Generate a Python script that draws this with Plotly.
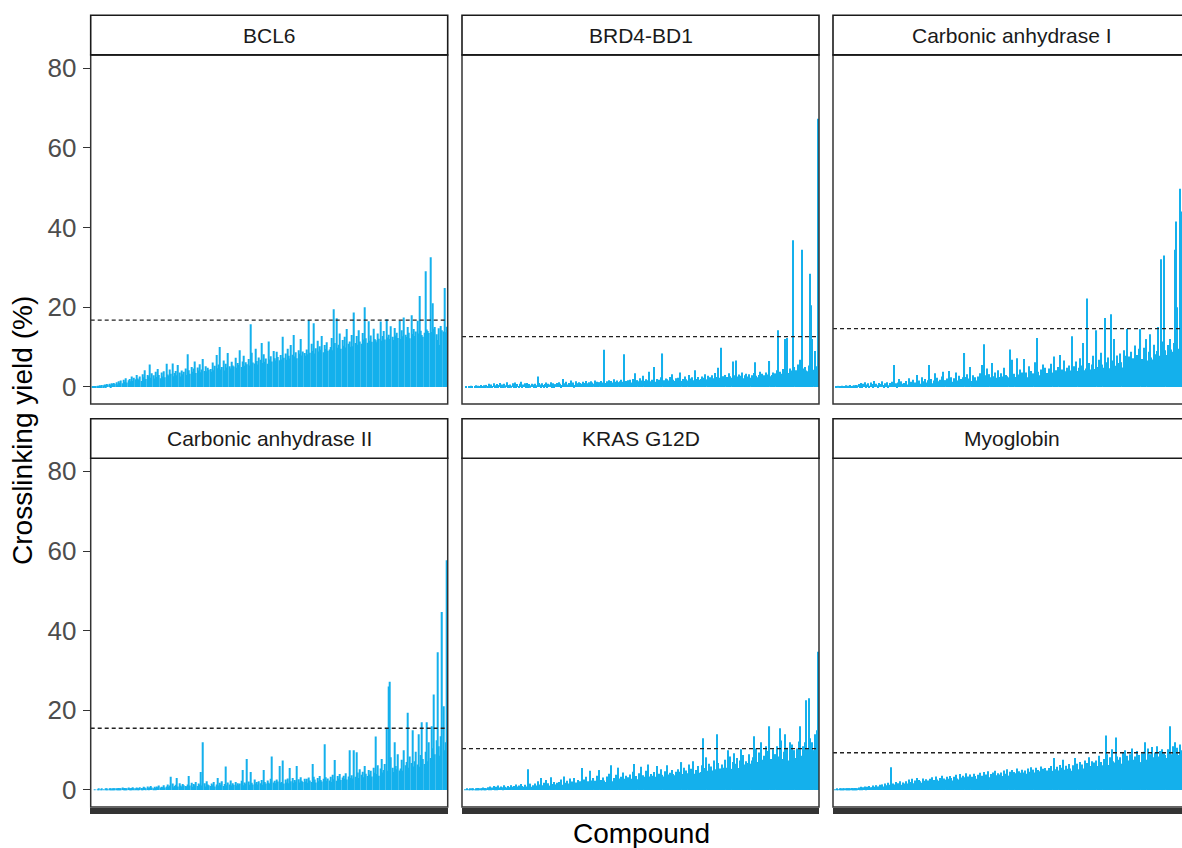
import plotly.graph_objects as go

# ---------------- data ----------------
N_COMPOUNDS = 300
compounds = list(range(1, N_COMPOUNDS + 1))

proteins = ["BCL6", "BRD4-BD1", "Carbonic anhydrase I",
            "Carbonic anhydrase II", "KRAS G12D", "Myoglobin"]
thresholds = [16.75, 12.6, 14.6, 15.5, 10.4, 9.35]

bcl6 = [
    0, 0.1, 0.1, 0.2, 0.2, 0.3, 0.2, 0.4, 0.3, 0.5, 0.4, 0.6, 0.5, 0.7, 0.6, 0.8, 0.5, 0.9, 0.7, 1.0,
    0.8, 1.2, 0.6, 1.4, 1.0, 1.6, 0.9, 1.8, 1.3, 2.2, 1.1, 1.7, 2.0, 1.4, 2.6, 1.5, 2.3, 1.9, 3.0, 2.1,
    1.8, 2.6, 1.5, 3.2, 2.4, 4.2, 2.0, 3.0, 2.7, 5.6, 2.3, 3.4, 2.9, 2.1, 3.8, 2.5, 4.5, 3.0, 2.2, 3.6,
    2.6, 3.9, 2.4, 5.8, 3.1, 2.8, 4.4, 3.3, 5.9, 2.7, 3.5, 4.0, 2.9, 5.5, 3.6, 2.6, 4.1, 3.2, 3.8, 4.6,
    3.0, 8.2, 4.2, 3.3, 5.0, 3.8, 4.6, 6.4, 3.5, 4.9, 4.1, 5.7, 3.7, 4.4, 7.0, 4.0, 5.2, 3.9, 4.8, 4.3,
    4.5, 3.8, 6.1, 4.2, 5.3, 8.0, 4.7, 5.6, 10.0, 4.4, 5.0, 6.6, 4.1, 5.8, 4.9, 8.5, 5.2, 4.6, 6.3, 5.4,
    5.1, 7.3, 4.8, 6.0, 5.5, 9.2, 5.0, 6.4, 7.8, 5.3, 6.2, 5.7, 7.0, 5.4, 15.7, 8.6, 6.1, 5.9, 9.6, 6.5,
    5.6, 7.4, 6.8, 11.0, 6.0, 8.2, 6.3, 7.1, 5.8, 11.4, 6.9, 7.7, 6.4, 9.0, 7.2, 6.6, 8.8, 7.5, 6.7, 8.0,
    6.9, 12.6, 7.3, 8.4, 6.8, 9.6, 7.8, 7.1, 10.5, 8.1, 13.0, 7.6, 8.7, 7.2, 9.2, 8.3, 12.0, 7.9, 8.9, 8.5,
    7.8, 9.4, 8.2, 16.8, 8.6, 10.8, 9.0, 16.0, 8.4, 9.7, 11.6, 8.9, 10.2, 9.3, 12.8, 8.7, 10.5, 9.5, 11.2, 9.1,
    9.4, 10.0, 12.3, 9.2, 19.5, 11.0, 17.2, 9.8, 10.6, 13.4, 9.6, 11.8, 10.3, 12.6, 9.9, 14.5, 10.8, 11.4, 10.1, 13.0,
    10.2, 18.7, 11.0, 12.8, 10.6, 14.2, 11.4, 10.8, 13.5, 11.9, 20.0, 12.2, 11.1, 16.5, 11.6, 12.9, 11.3, 14.6, 12.0, 11.7,
    11.2, 13.4, 12.1, 16.4, 11.6, 12.8, 14.0, 11.9, 17.0, 12.4, 13.1, 12.0, 15.2, 12.6, 11.8, 14.8, 12.9, 13.6, 12.3, 16.6,
    12.0, 14.2, 12.7, 17.4, 13.1, 12.5, 15.0, 13.6, 12.2, 18.0, 13.3, 14.5, 12.8, 13.9, 16.6, 13.4, 22.8, 14.1, 13.0, 12.6,
    13.6, 29.0, 14.4, 14.0, 13.5, 32.5, 13.8, 21.0, 14.6, 15.0, 13.2, 11.8, 14.7, 10.5, 15.3, 14.2, 13.9, 24.8, 13.7, 15.1,
]

brd4_bd1 = [
    0, 0, 0, 0.1, 0, 0.2, 0, 0.3, 0.1, 0, 0.2, 0.4, 0, 0.3, 0.1, 0.5, 0.2, 0, 0.4, 0.3,
    0.5, 0.2, 0.8, 0.3, 0.6, 0.1, 0.9, 0.4, 0.2, 0.7, 0.5, 1.0, 0.3, 0.6, 0.2, 0.8, 0.4, 1.2, 0.3, 0.5,
    0.6, 0.3, 0.9, 0.4, 1.1, 0.5, 0.7, 0.2, 0.8, 1.3, 0.4, 0.6, 0.9, 0.3, 1.0, 0.5, 0.7, 0.4, 0.8, 0.6,
    0.5, 0.8, 0.4, 2.6, 1.0, 0.6, 0.3, 0.9, 0.5, 0.7, 1.1, 0.4, 0.8, 0.6, 1.2, 0.5, 0.9, 0.3, 0.7, 1.0,
    0.6, 1.2, 0.8, 0.5, 2.0, 0.9, 0.7, 1.3, 0.6, 1.0, 0.8, 1.6, 0.7, 1.1, 0.5, 1.4, 0.9, 0.8, 1.2, 1.0,
    0.8, 1.3, 0.7, 1.0, 1.5, 0.9, 1.2, 0.6, 1.4, 1.1, 0.8, 1.6, 1.0, 1.3, 0.9, 1.2, 1.5, 0.8, 1.1, 9.3,
    1.0, 1.4, 0.9, 1.7, 1.2, 1.5, 1.1, 1.9, 1.3, 1.0, 1.6, 1.2, 1.4, 1.8, 1.1, 1.3, 8.2, 1.5, 1.2, 1.7,
    1.3, 1.8, 1.1, 2.0, 1.5, 3.4, 1.2, 1.7, 1.4, 2.2, 1.6, 1.3, 2.8, 1.5, 1.9, 1.2, 1.7, 3.8, 1.4, 1.8,
    1.5, 5.0, 1.3, 2.0, 1.6, 1.8, 1.4, 2.4, 8.4, 1.7, 1.5, 2.1, 1.9, 1.6, 2.5, 1.4, 3.2, 1.8, 1.5, 2.2,
    1.6, 2.3, 1.8, 3.6, 1.5, 2.0, 1.7, 2.6, 1.9, 1.6, 3.0, 2.1, 1.8, 2.4, 1.7, 4.2, 2.0, 1.9, 2.5, 1.8,
    2.0, 2.6, 1.8, 2.3, 3.2, 1.9, 2.8, 2.1, 2.4, 1.7, 2.9, 2.2, 3.5, 2.0, 2.5, 4.8, 2.3, 9.8, 2.1, 2.7,
    2.2, 3.0, 2.5, 2.0, 3.4, 2.7, 2.3, 6.4, 2.9, 2.1, 6.6, 2.6, 3.1, 2.4, 2.8, 3.6, 2.2, 2.9, 3.3, 2.5,
    2.6, 3.2, 2.3, 2.9, 2.7, 3.5, 6.2, 2.8, 2.4, 3.0, 3.8, 2.6, 3.3, 2.9, 2.5, 3.6, 2.8, 3.1, 6.5, 2.7,
    3.0, 3.6, 2.8, 3.4, 4.2, 14.2, 3.1, 3.8, 3.3, 4.5, 3.9, 12.0, 5.2, 12.3, 3.5, 4.6, 4.1, 3.7, 36.8, 5.0,
    4.2, 3.5, 5.6, 4.0, 6.8, 34.4, 3.8, 4.6, 5.0, 4.1, 3.9, 5.4, 28.4, 20.5, 12.0, 4.3, 9.0, 5.2, 4.6, 67.3,
]

carbonic_anhydrase_1 = [
    0, 0, 0.1, 0, 0.2, 0.1, 0, 0.3, 0.2, 0.1, 0.4, 0, 0.3, 0.2, 0.5, 0.1, 0.3, 0.4, 0.2, 0.5,
    0.4, 0.7, 0.3, 1.0, 0.5, 0.8, 1.2, 0.4, 0.6, 0.9, 0.3, 1.1, 0.7, 0.5, 1.5, 0.6, 0.8, 0.4, 1.0, 0.7,
    0.6, 1.4, 0.5, 0.9, 0.7, 1.2, 0.4, 1.0, 0.8, 1.3, 0.6, 5.5, 0.9, 0.5, 1.1, 2.0, 0.7, 1.4, 0.8, 1.0,
    0.8, 1.5, 0.6, 2.2, 1.0, 1.3, 0.7, 1.8, 1.1, 0.9, 3.0, 1.2, 1.6, 0.8, 2.4, 1.0, 1.4, 2.0, 1.1, 1.7,
    5.5, 1.2, 2.0, 0.9, 1.6, 3.4, 1.1, 2.3, 1.4, 1.8, 1.0, 2.6, 3.8, 1.3, 1.7, 2.1, 1.2, 4.0, 1.5, 2.4,
    1.3, 2.2, 1.0, 3.6, 1.6, 2.8, 1.2, 2.0, 1.8, 2.4, 8.5, 2.5, 3.2, 1.7, 2.1, 5.0, 1.5, 2.9, 1.9, 2.4,
    1.6, 2.6, 1.9, 3.4, 2.2, 5.5, 10.7, 1.8, 2.9, 4.6, 2.0, 3.2, 2.4, 6.0, 1.9, 2.7, 3.6, 2.3, 4.2, 2.5,
    2.0, 3.4, 2.6, 4.8, 2.2, 3.0, 2.7, 2.4, 9.4, 3.8, 6.8, 2.9, 3.3, 2.5, 7.2, 3.1, 2.8, 4.4, 3.6, 2.6,
    7.0, 2.8, 3.6, 2.4, 5.2, 3.2, 4.0, 2.7, 3.4, 6.2, 3.0, 12.3, 3.8, 2.9, 4.4, 3.3, 5.6, 3.1, 4.8, 3.5,
    3.2, 4.6, 2.9, 5.8, 3.6, 7.6, 3.3, 4.2, 3.0, 5.0, 8.0, 3.7, 4.4, 3.4, 6.6, 3.9, 4.8, 3.5, 5.4, 4.1,
    12.7, 3.8, 5.2, 3.5, 6.4, 4.0, 4.8, 7.2, 3.6, 5.4, 11.0, 4.2, 4.6, 22.2, 3.9, 6.0, 4.4, 5.6, 7.8, 4.1,
    4.5, 14.2, 5.0, 6.8, 4.3, 8.6, 5.6, 4.8, 17.3, 6.2, 5.1, 7.4, 4.7, 18.2, 5.8, 6.6, 12.0, 5.3, 7.9, 6.0,
    5.5, 8.4, 6.2, 4.9, 9.2, 6.8, 7.8, 14.5, 7.6, 6.3, 8.8, 5.9, 7.2, 10.4, 6.5, 8.0, 6.1, 9.6, 14.5, 7.0,
    6.4, 9.8, 7.0, 12.0, 6.6, 8.8, 13.2, 7.4, 6.9, 10.6, 8.2, 7.6, 9.0, 15.0, 7.8, 32.0, 8.6, 11.4, 33.0, 9.2,
    8.0, 10.5, 7.6, 12.0, 9.4, 8.8, 11.0, 34.4, 41.5, 20.0, 9.6, 49.7, 44.0, 10.8, 12.5, 9.0, 11.6, 10.2, 13.0, 9.8,
]

carbonic_anhydrase_2 = [
    0, 0, 0, 0.1, 0, 0.1, 0.2, 0, 0.1, 0.2, 0.1, 0, 0.2, 0.3, 0.1, 0.2, 0.3, 0.1, 0.2, 0.3,
    0.2, 0.4, 0.3, 0.5, 0.2, 0.4, 0.6, 0.3, 0.5, 0.4, 0.2, 0.6, 0.4, 0.3, 0.5, 0.7, 0.4, 0.3, 0.6, 0.5,
    0.4, 0.7, 0.5, 0.3, 0.8, 0.6, 0.4, 0.9, 0.5, 0.7, 1.0, 0.6, 0.4, 0.8, 0.5, 0.9, 0.7, 1.1, 0.6, 0.8,
    0.7, 1.2, 0.6, 0.9, 1.4, 0.8, 1.1, 3.3, 1.6, 0.7, 1.0, 1.3, 3.0, 0.9, 1.7, 1.1, 0.8, 1.5, 1.2, 1.0,
    0.9, 1.4, 3.5, 1.1, 1.8, 0.8, 1.5, 1.2, 2.0, 1.0, 1.6, 1.3, 4.5, 1.1, 12.0, 1.7, 0.9, 2.2, 1.4, 1.2,
    1.0, 1.6, 1.2, 2.0, 0.9, 1.4, 3.0, 1.1, 1.8, 1.3, 2.2, 1.0, 1.5, 5.9, 1.2, 1.9, 1.4, 2.4, 1.1, 1.7,
    1.3, 2.0, 1.1, 1.7, 1.4, 1.6, 2.3, 5.0, 1.2, 1.9, 1.5, 7.8, 2.1, 1.3, 4.5, 1.8, 1.4, 2.6, 1.6, 2.0,
    1.4, 2.2, 1.7, 2.5, 1.3, 5.0, 2.0, 1.6, 2.4, 1.8, 1.5, 2.8, 8.4, 1.9, 2.3, 1.7, 2.6, 2.1, 6.0, 1.8,
    2.0, 7.4, 1.6, 2.6, 1.9, 2.9, 1.7, 5.5, 2.2, 3.0, 1.8, 2.5, 2.1, 6.0, 2.7, 1.9, 3.2, 2.3, 2.0, 2.8,
    2.1, 2.8, 1.8, 3.1, 2.4, 2.0, 6.5, 3.3, 2.6, 1.9, 3.0, 2.2, 3.5, 2.5, 2.1, 2.8, 11.5, 3.2, 2.3, 2.9,
    2.4, 3.3, 2.0, 3.8, 2.7, 7.5, 2.3, 3.5, 2.9, 4.0, 2.5, 3.1, 3.6, 2.8, 4.2, 2.6, 3.4, 10.0, 3.0, 3.7,
    2.9, 10.0, 3.3, 9.5, 4.4, 3.0, 5.2, 3.8, 4.6, 3.2, 6.0, 4.1, 3.5, 5.0, 3.9, 4.8, 3.4, 5.6, 4.3, 13.4,
    4.0, 6.2, 3.6, 5.4, 7.8, 4.4, 5.0, 6.5, 15.5, 4.8, 26.0, 27.2, 8.2, 5.6, 4.5, 12.0, 6.0, 5.2, 9.0, 4.9,
    5.4, 7.6, 4.8, 10.0, 6.2, 7.0, 19.4, 5.6, 8.4, 6.8, 15.0, 5.9, 7.2, 9.6, 6.4, 14.0, 5.8, 8.8, 17.0, 7.8,
    6.5, 9.6, 17.0, 7.2, 12.0, 8.0, 16.0, 10.5, 24.0, 9.0, 12.5, 34.6, 11.0, 8.6, 13.5, 44.7, 21.0, 10.0, 12.0, 57.7,
]

kras_g12d = [
    0, 0, 0.1, 0, 0.2, 0.1, 0.3, 0, 0.2, 0.4, 0.1, 0.3, 0.2, 0.5, 0.3, 0.4, 0.2, 0.6, 0.3, 0.5,
    0.4, 0.7, 0.3, 0.9, 0.5, 0.6, 1.0, 0.4, 0.8, 0.5, 1.1, 0.6, 0.9, 0.7, 0.5, 1.2, 0.8, 0.6, 1.0, 0.7,
    0.6, 1.2, 0.8, 1.0, 0.7, 1.4, 0.9, 1.1, 0.6, 1.5, 1.0, 0.8, 1.3, 0.7, 0.9, 5.2, 1.1, 1.6, 0.8, 1.2,
    0.8, 1.6, 1.1, 2.2, 0.9, 1.4, 3.0, 1.2, 1.8, 1.0, 2.5, 1.3, 1.7, 1.1, 3.2, 1.5, 1.2, 2.0, 1.4, 1.8,
    1.2, 2.0, 1.5, 2.6, 1.3, 3.4, 1.8, 1.4, 2.3, 1.6, 2.9, 1.5, 2.1, 1.7, 3.0, 1.9, 1.6, 2.5, 1.8, 2.2,
    5.5, 1.7, 2.6, 1.9, 3.3, 2.2, 1.8, 4.8, 2.4, 2.0, 3.0, 2.3, 1.9, 3.6, 2.1, 5.0, 2.5, 2.2, 3.1, 2.4,
    2.0, 3.4, 2.3, 4.1, 2.6, 6.2, 2.2, 3.0, 2.7, 3.8, 2.4, 5.6, 2.9, 3.3, 2.5, 4.4, 2.8, 3.6, 2.6, 3.2,
    2.5, 3.9, 2.8, 4.6, 6.5, 3.0, 3.5, 2.7, 4.2, 3.2, 5.8, 2.9, 3.7, 3.3, 4.8, 3.1, 6.4, 3.4, 4.0, 3.6,
    3.0, 4.5, 3.3, 6.0, 3.6, 4.1, 3.2, 5.2, 3.8, 3.4, 4.7, 3.5, 6.2, 3.9, 4.3, 3.6, 5.0, 4.0, 3.7, 4.6,
    3.4, 5.2, 3.8, 4.6, 7.0, 4.0, 5.6, 3.7, 4.9, 4.2, 6.4, 3.9, 5.3, 4.4, 7.2, 4.1, 5.0, 4.6, 6.0, 4.3,
    4.5, 6.2, 13.0, 4.1, 5.5, 8.2, 4.8, 6.6, 4.4, 5.9, 4.9, 7.4, 5.2, 4.6, 14.0, 6.8, 5.4, 4.8, 6.4, 5.6,
    5.0, 7.6, 5.6, 10.0, 6.2, 8.4, 5.3, 7.0, 9.2, 5.8, 6.6, 8.0, 5.5, 7.4, 10.2, 6.0, 8.8, 6.4, 7.2, 6.8,
    6.0, 9.0, 6.6, 7.4, 8.2, 13.5, 6.4, 10.4, 7.0, 9.4, 6.8, 12.0, 7.6, 8.6, 7.2, 11.0, 8.0, 9.8, 16.0, 7.8,
    7.0, 10.2, 8.0, 9.0, 11.0, 7.6, 8.4, 15.5, 12.4, 7.8, 9.6, 14.0, 8.6, 10.6, 7.4, 12.0, 9.0, 11.4, 8.2, 10.0,
    8.0, 10.4, 9.4, 12.2, 16.0, 8.6, 11.0, 9.8, 12.0, 22.5, 10.4, 23.0, 13.0, 8.8, 12.0, 10.0, 14.0, 9.2, 15.0, 34.7,
]

myoglobin = [
    0, 0.1, 0, 0.2, 0.1, 0.3, 0.2, 0.1, 0.3, 0.2, 0.4, 0.3, 0.2, 0.4, 0.3, 0.5, 0.4, 0.3, 0.5, 0.4,
    0.4, 0.6, 0.5, 0.8, 0.4, 0.7, 0.9, 0.5, 0.8, 0.6, 1.0, 0.7, 0.6, 1.1, 0.8, 0.7, 1.2, 0.9, 0.8, 1.3,
    1.0, 1.4, 0.9, 1.6, 1.2, 1.0, 1.8, 1.3, 5.7, 1.1, 1.6, 1.4, 2.0, 1.2, 1.7, 1.5, 2.2, 1.3, 1.9, 1.6,
    1.4, 2.2, 1.6, 2.6, 1.8, 2.0, 2.8, 1.7, 2.4, 2.1, 3.0, 1.9, 2.5, 2.2, 1.8, 2.9, 2.3, 2.0, 2.7, 2.4,
    2.0, 2.8, 2.2, 3.2, 2.5, 2.1, 3.4, 2.6, 2.3, 3.0, 2.7, 3.6, 2.4, 2.9, 2.6, 3.3, 2.8, 2.5, 3.5, 3.0,
    2.4, 3.3, 2.7, 3.8, 2.9, 2.6, 4.0, 3.1, 2.8, 3.6, 3.2, 4.2, 2.9, 3.4, 3.0, 3.9, 3.3, 2.9, 4.1, 3.5,
    2.8, 3.8, 3.0, 4.3, 3.3, 3.6, 4.5, 3.1, 3.9, 3.4, 4.7, 3.2, 4.0, 3.6, 4.4, 3.5, 4.8, 3.7, 4.2, 3.9,
    3.2, 4.4, 3.5, 4.9, 3.8, 4.1, 5.2, 3.6, 4.6, 3.9, 5.0, 3.7, 4.5, 4.2, 5.4, 4.0, 4.7, 4.3, 5.1, 4.4,
    3.8, 4.9, 4.1, 5.4, 4.3, 4.6, 5.7, 4.0, 5.1, 4.4, 5.6, 4.2, 5.0, 4.7, 5.9, 4.5, 5.3, 4.8, 5.5, 4.9,
    4.2, 5.5, 4.6, 6.0, 4.8, 8.0, 5.2, 4.5, 5.8, 4.9, 6.3, 4.7, 5.6, 7.6, 5.1, 6.1, 5.3, 5.0, 6.5, 5.4,
    4.8, 6.2, 5.1, 8.0, 5.5, 6.6, 5.2, 7.0, 5.8, 6.4, 5.4, 7.4, 5.9, 6.8, 5.6, 8.2, 6.0, 7.2, 6.3, 6.9,
    5.4, 7.4, 6.0, 8.6, 6.4, 7.0, 6.2, 7.8, 6.6, 13.7, 9.0, 6.3, 8.2, 6.8, 10.2, 7.2, 6.9, 13.2, 8.4, 7.6,
    6.0, 8.2, 6.6, 9.4, 7.0, 10.0, 6.8, 8.6, 7.4, 9.0, 6.4, 10.4, 7.6, 8.4, 7.2, 9.8, 7.8, 8.8, 7.0, 9.2,
    7.2, 9.6, 12.0, 7.6, 10.4, 8.0, 9.0, 7.4, 10.8, 8.2, 9.4, 7.8, 11.0, 8.4, 9.8, 8.0, 10.2, 8.6, 9.2, 8.8,
    8.0, 10.2, 8.6, 16.0, 9.0, 11.0, 8.4, 12.0, 9.6, 10.6, 8.8, 11.4, 9.2, 10.0, 9.4, 10.8, 8.6, 11.2, 9.8, 10.4,
]

series = [bcl6, brd4_bd1, carbonic_anhydrase_1, carbonic_anhydrase_2, kras_g12d, myoglobin]
y_ticks = [0, 20, 40, 60, 80]

# ---------------- style / geometry ----------------
W, H = 1182, 848
FONT = "Liberation Sans, Arial, Helvetica, sans-serif"
BAR = "#14B0EC"
DARK = "#333333"

col_px = [(90.7, 447.7), (462.0, 819.0), (833.0, 1190.0)]
row_px = [(53.0, 403.0), (457.3, 807.0)]
strip_px = [(13.3, 53.0), (417.7, 457.3)]
Y_RANGE = [-4.3, 83.3]


def px_x(v):
    return v / W


def px_y(v):
    return 1 - v / H


fig = go.Figure()
layout = dict(
    width=W, height=H, margin=dict(l=0, r=0, t=0, b=0),
    paper_bgcolor="white", plot_bgcolor="white", showlegend=False,
    font=dict(family=FONT), bargap=0.1,
)
shapes, annotations = [], []

for i, (name, vals, thr) in enumerate(zip(proteins, series, thresholds)):
    r, c = divmod(i, 3)
    suf = "" if i == 0 else str(i + 1)
    x0, x1 = col_px[c]
    y0, y1 = row_px[r]
    s0, s1 = strip_px[r]

    xr = [0.4, N_COMPOUNDS + 0.6]
    if x1 > W:
        xr[1] = 0.4 + (N_COMPOUNDS + 0.2) * (W - x0) / (x1 - x0)

    fig.add_trace(go.Bar(
        x=compounds, y=vals, xaxis="x" + suf, yaxis="y" + suf,
        marker=dict(color=BAR, line=dict(width=0)), width=0.9,
        hoverinfo="skip",
    ))

    layout["xaxis" + suf] = dict(
        domain=[px_x(x0), px_x(min(x1, W))], range=xr, anchor="y" + suf,
        showgrid=False, zeroline=False, showline=False, showticklabels=False,
        ticks="outside" if r == 1 else "", tickmode="array", tickvals=compounds,
        ticklen=6, tickwidth=2, tickcolor=DARK, fixedrange=True,
    )
    layout["yaxis" + suf] = dict(
        domain=[px_y(y1), px_y(y0)], range=Y_RANGE, anchor="x" + suf,
        showgrid=False, zeroline=False, showline=False,
        tickmode="array", tickvals=y_ticks,
        ticks="outside" if c == 0 else "", ticklen=7, tickwidth=1.3, tickcolor=DARK,
        showticklabels=(c == 0), ticklabelstandoff=1,
        tickfont=dict(size=26, color="#4D4D4D", family=FONT), fixedrange=True,
    )

    # threshold line
    shapes.append(dict(
        type="line", xref="x" + suf + " domain", yref="y" + suf,
        x0=0, x1=1, y0=thr, y1=thr, layer="above",
        line=dict(color="#222222", width=1.3, dash="4px,3px"),
    ))
    # panel border
    shapes.append(dict(
        type="rect", xref="paper", yref="paper",
        x0=px_x(x0), x1=px_x(x1), y0=px_y(y1), y1=px_y(y0),
        line=dict(color=DARK, width=1.5), fillcolor="rgba(0,0,0,0)", layer="above",
    ))
    # strip
    shapes.append(dict(
        type="rect", xref="paper", yref="paper",
        x0=px_x(x0), x1=px_x(x1), y0=px_y(s1), y1=px_y(s0),
        line=dict(color="#1A1A1A", width=1.6), fillcolor="white", layer="above",
    ))
    annotations.append(dict(
        text=name, xref="paper", yref="paper",
        x=px_x((x0 + x1) / 2), y=px_y((s0 + s1) / 2),
        xanchor="center", yanchor="middle", showarrow=False,
        font=dict(size=21, color="#1A1A1A", family=FONT),
    ))

annotations.append(dict(
    text="Crosslinking yield (%)", xref="paper", yref="paper",
    x=px_x(23), y=px_y(430), textangle=-90, xanchor="center", yanchor="middle",
    showarrow=False, font=dict(size=28, color="black", family=FONT),
))
annotations.append(dict(
    text="Compound", xref="paper", yref="paper",
    x=px_x(641), y=px_y(833), xanchor="center", yanchor="middle",
    showarrow=False, font=dict(size=28, color="black", family=FONT),
))

layout["shapes"] = shapes
layout["annotations"] = annotations
fig.update_layout(**layout)
fig.write_html("out.html")
